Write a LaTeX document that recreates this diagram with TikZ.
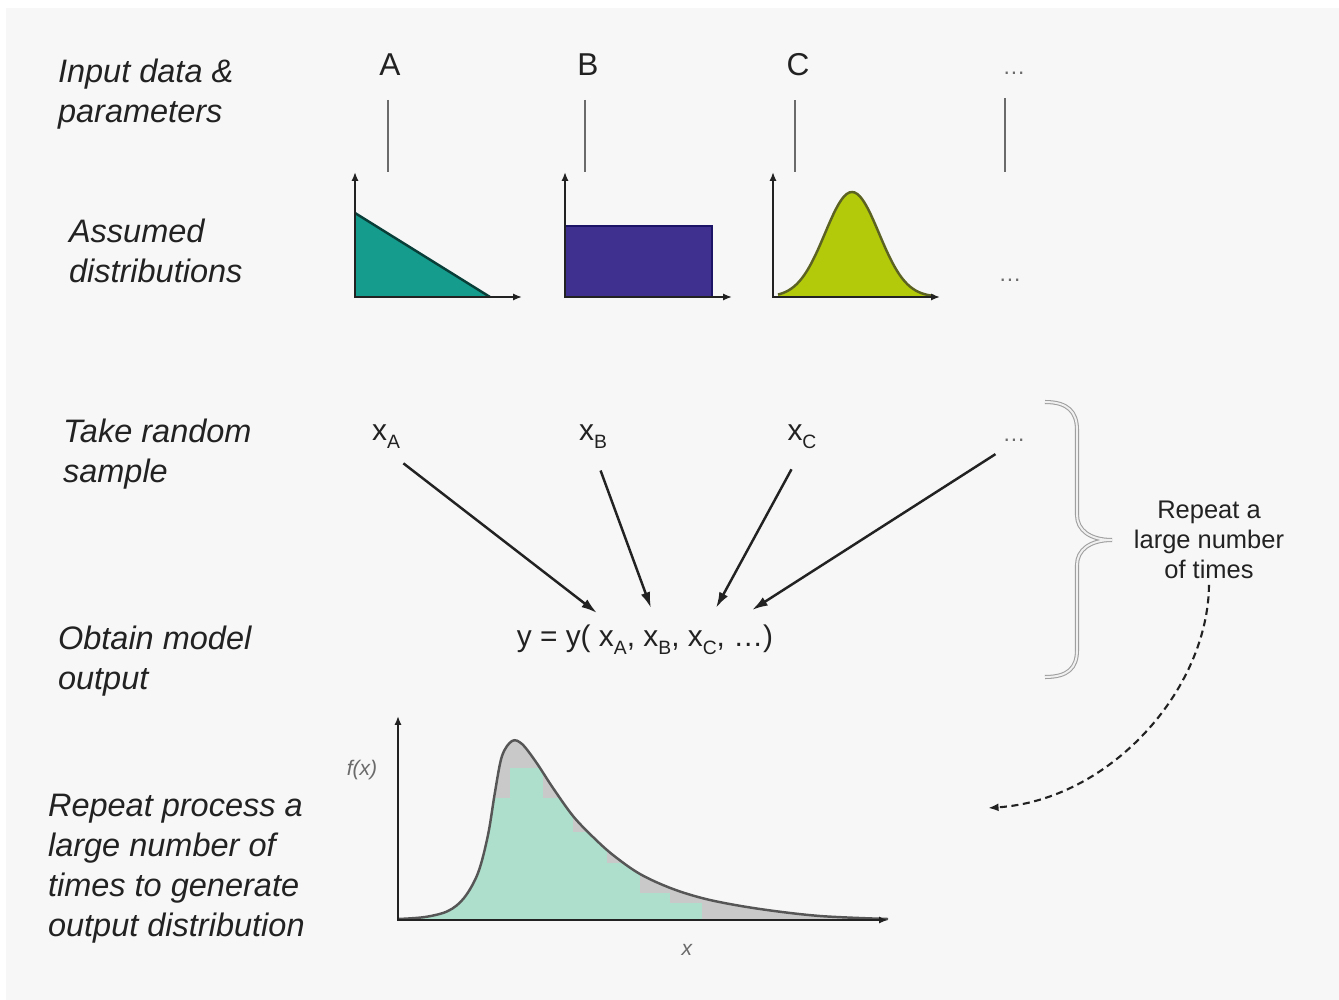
\documentclass[tikz,border=0pt]{standalone}
\usepackage{fontspec}
\setmainfont{Liberation Sans}
\setsansfont{Liberation Sans}
\usetikzlibrary{arrows.meta, positioning}
\definecolor{cbg}{HTML}{F7F7F7}
\definecolor{cink}{HTML}{222222}
\definecolor{cgrey}{HTML}{6B6B6B}
\definecolor{cteal}{HTML}{169C8C}
\definecolor{cindigo}{HTML}{3F2F8E}
\definecolor{cnavy}{HTML}{1C1466}
\definecolor{cyell}{HTML}{B2CA0A}
\definecolor{colive}{HTML}{5C6222}
\definecolor{chist}{HTML}{AEDFCC}
\definecolor{cshade}{HTML}{C9C9C9}
\newcommand{\subx}[1]{\raisebox{-0.5ex}{\fontsize{11}{12}\selectfont #1}}
\tikzset{
  every picture/.style={font=\sffamily, line width=1.2pt},
  every node/.style={inner sep=0pt, text=cink},
  stage/.style={font=\fontsize{18.5}{22.8}\selectfont\itshape, align=left, anchor=north west},
  param/.style={font=\fontsize{18}{22}\selectfont},
  draw_/.style={font=\fontsize{17}{20}\selectfont},
  faint/.style={font=\fontsize{13}{16}\selectfont, text=cgrey},
  stem/.style={draw=cgrey, line width=1.3pt, shorten <=0.46cm},
  axis/.style={{Latex[length=5pt,width=4pt]}-{Latex[length=5pt,width=4pt]}, draw=cink, line width=1.5pt},
  arrow/.style={-{Latex[length=9pt,width=5.5pt]}, draw=cink, line width=1.4pt, shorten <=0.44cm},
  loop/.style={-{Latex[length=6pt,width=4.5pt]}, draw=cink, line width=1.2pt, dash pattern=on 4pt off 2.6pt},
  brace/.style={draw=gray!75, double=gray!12, double distance=1.1pt, line width=0.6pt},
  outcurve/.style={insert path={-- plot[smooth, tension=0.55] coordinates {(398,919) (425,917) (448,911) (464,898) (478,873) (488,835) (495,792) (502,756) (512,741) (522,744) (536,762) (553,788) (573,816) (593,837) (613,855) (640,874) (673,889) (710,900) (760,909) (820,916) (888,919)}}},
}

\begin{document}
\begin{tikzpicture}[x=0.02cm, y=-0.02cm]
  \useasboundingbox (0,0) rectangle (1339,1000);
  \fill[white] (0,0) rectangle (1339,1000);
  \fill[cbg] (6,8) rectangle (1339,1000);
  % stage labels on the left
  \node[stage] (sIn) at (57,58) {Input data \&\\parameters};
  \node[stage] (sDist) at (68,218) {Assumed\\distributions};
  \node[stage] (sTake) at (62,418) {Take random\\sample};
  \node[stage] (sModel) at (57,625) {Obtain model\\output};
  \node[stage] (sRep) at (47,793) {Repeat process a\\large number of\\times to generate\\output distribution};
  % row 1: the inputs
  \foreach \n/\x in {A/390, B/588, C/798} {
    \node[param] (lab\n) at (\x,65) {\n};
  }
  \node[faint] (labD) at (1014,73) {\dots};
  \foreach \n/\x in {A/388, B/585, C/795, D/1005} {
    \coordinate (t\n) at (\x,172);
    \draw[stem] (t\n |- lab\n.south) -- (t\n);
  }
  % row 2: assumed distributions
  \fill[cteal] (355,213) -- (490,297) -- (355,297) -- cycle;
  \draw[cteal!40!black, line width=1.4pt] (355,213) -- (490,297);
  \draw[axis] (355,172) -- (355,297) -- (522,297);
  \filldraw[fill=cindigo, draw=cnavy, line width=1.6pt] (565,226) rectangle (712,297);
  \draw[axis] (565,172) -- (565,297) -- (732,297);
  \fill[cyell] (778,297) -- plot[domain=778:934, samples=60] (\x,{297-105*exp(-0.5*((\x-852)/27)*((\x-852)/27))}) -- (934,297) -- cycle;
  \draw[colive, line width=1.4pt] plot[domain=778:934, samples=60] (\x,{297-105*exp(-0.5*((\x-852)/27)*((\x-852)/27))});
  \draw[axis] (773,172) -- (773,297) -- (940,297);
  \node[faint] (distD) at (1010,280) {\dots};
  % row 3: random samples
  \foreach \n/\x in {A/386, B/593, C/802} {
    \node[draw_] (x\n) at (\x,437) {x\subx{\n}};
  }
  \node[faint] (xD) at (1014,440) {\dots};
  % row 4: model output
  \node[draw_] (model) at (645,640) {y = y( x\subx{A}, x\subx{B}, x\subx{C}, \dots)};
  \coordinate (eA) at (597,613);
  \coordinate (eB) at (651,608);
  \coordinate (eC) at (716,608);
  \coordinate (eD) at (752,610);
  \foreach \n in {A, B, C, D} { \draw[arrow] (x\n.south) -- (e\n); }
  % brace and repeat note
  \draw[brace] (1045,402) .. controls (1068,402) and (1077,412) .. (1077,430) -- (1077,515)
    .. controls (1077,530) and (1090,540) .. (1112,540)
    .. controls (1090,540) and (1077,550) .. (1077,565) -- (1077,650)
    .. controls (1077,668) and (1068,677) .. (1045,677);
  \node[font=\fontsize{14.5}{17}\selectfont, align=center] (rep) at (1209,540) {Repeat a\\large number\\of times};
  \coordinate (back) at (988,808);
  \draw[loop] ([yshift=-0.1cm]rep.south) .. controls (1208,690) and (1110,800) .. (back);
  % output distribution
  \fill[cshade] (398,920) [outcurve] -- (888,920) -- cycle;
  \begin{scope}
    \clip (398,920) [outcurve] -- (888,920) -- cycle;
    \foreach \a/\b/\t in {417/448/905, 448/480/800, 480/510/798, 510/543/768, 543/573/798, 573/607/832, 607/640/863, 640/670/893, 670/702/903} {
      \fill[chist] (\a,921) rectangle (\b,\t);
    }
  \end{scope}
  \draw[cgrey!80!black, line width=1.4pt] (398,919) [outcurve];
  \draw[axis] (398,716) -- (398,920) -- (888,920);
  \node[faint, font=\fontsize{12}{14}\selectfont\itshape] (fx) at (362,770) {f(x)};
  \node[faint, font=\fontsize{12}{14}\selectfont\itshape] (xl) at (687,950) {x};
\end{tikzpicture}
\end{document}
